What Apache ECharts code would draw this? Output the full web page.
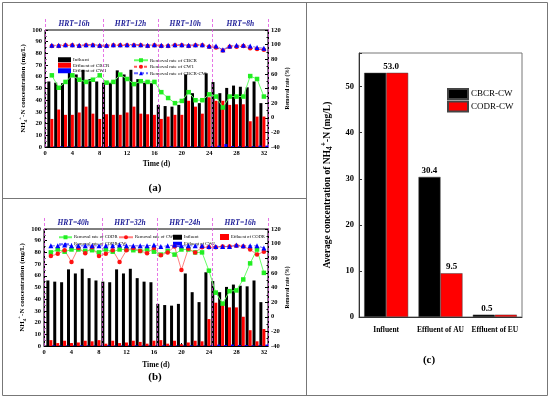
<!DOCTYPE html>
<html><head><meta charset="utf-8">
<script src="https://cdn.jsdelivr.net/npm/echarts@6/dist/echarts.min.js"></script>
<style>html,body{margin:0;padding:0;background:#fff}#c{width:550px;height:398px}</style>
</head><body><div id="c"></div>
<script>
// ---------- data ----------
const days = [1,2,3,4,5,6,7,8,9,10,11,12,13,14,15,16,17,18,19,20,21,22,23,24,25,26,27,28,29,30,31,32];
const influent = [56,55,54.5,65.5,62,66,58,56,55,54.5,65.5,62,66,58,55,54.5,36,35,34.5,36,62,46,37.5,63,55.5,46,50.5,52.5,51.5,51,56,37.5];
// panel (a)
const effCBCR = [24,32,27.5,27.5,29.5,34.5,28.5,24,28,27.5,27.5,29.5,34.5,28.5,28,27.5,24,26,27.5,27.5,39.5,34.5,28.5,42.5,39.5,39.5,36,36.5,36.5,22,26,26];
const effCW1 = [0.3,0.5,0.3,0.3,0.3,0.3,0.3,0.3,0.5,0.3,0.3,0.3,0.3,0.3,0.3,0.3,0.3,0.5,0.3,0.3,0.3,0.3,0.3,0.8,1.2,2.5,0.8,0.6,0.5,0.6,1.2,1.2];
const remCBCR = [58,41,49,58,52,49,52,58,48,49,59,53,46,50,49,49,35,27,20,23,35,24,24,32,29,14,29,29,29,57,53,29];
const remCW1 = [98,98,99,99,98,99,99,98,98,99,99,99,99,99,98,99,98,98,99,99,98,99,99,97,96,92,97,97,98,95,94,93];
const remCBCRCW = [99,99,100,100,99,100,100,99,99,100,100,100,100,100,99,100,99,99,100,100,99,100,100,98,98,93,98,99,99,98,96,95];
// panel (b)
const effCODR = [5,2.5,4.5,2.5,3,4.5,4,5,2,4.5,2.5,3,4.5,3.5,2,4.5,5,2,4.5,1.5,3,4.5,4,23,37,37,33,33,25,13.5,4,14.5];
const effCW2 = [0.5,0.3,0.3,0.3,0.5,0.3,0.3,0.3,0.5,0.3,0.3,0.3,0.5,0.3,0.3,0.3,0.5,0.3,0.3,0.3,0.5,0.3,0.3,0.5,1.2,0.8,1.2,0.8,0.8,0.5,0.5,1.2];
const remCODR = [88,92,89,92,92,90,91,88,92,89,92,92,91,90,92,89,85,90,85,92,92,88,88,63,33,18,35,36,51,73,92,60];
const remCW2 = [83,86,91,75,94,87,95,83,86,91,75,91,94,90,87,94,84,88,96,64,93,88,95,95,95,96,96,97,96,92,85,89];
const remCODRCW = [97,97,98,97,97,97,97,97,97,97,98,97,97,97,97,98,96,97,98,97,97,97,97,96,96,96,96,98,97,97,97,94];
// HRT phases
const hrtBounds = [0, 8.5, 16.5, 24.5, 32.6];
const hrtA = ['HRT=16h','HRT=12h','HRT=10h','HRT=8h'];
const hrtB = ['HRT=40h','HRT=32h','HRT=24h','HRT=16h'];
// panel (c)
const catsC = ['Influent','Effluent of AU','Effluent of EU'];
const avgCBCR = [53.0, 30.4, 0.5];
const avgCODR = [53.0, 9.5, 0.5];
const xTicks = [0,4,8,12,16,20,24,28,32];

// ---------- helpers ----------
const F = 'Liberation Serif';
const pairs = arr => days.map((d,i)=>[d, arr[i]]);
const nhRich = (fs) => ({
  t:{fontFamily:F,fontSize:fs,fontWeight:'bold',color:'#000',lineHeight:fs+4},
  sub:{fontFamily:F,fontSize:fs-2,fontWeight:'bold',color:'#000',verticalAlign:'bottom',lineHeight:fs+4,padding:[3,0,0,0]},
  sup:{fontFamily:F,fontSize:fs-2,fontWeight:'bold',color:'#000',verticalAlign:'top',lineHeight:fs+4,padding:[0,0,4,0]}
});
function xAB(g){
  return {type:'value',gridIndex:g,min:0,max:32.6,interval:4,
    axisLine:{show:true,onZero:false,lineStyle:{color:'#000',width:1}},
    axisTick:{show:true,inside:true,length:3,lineStyle:{color:'#000'}},
    minorTick:{show:true,splitNumber:2,length:1.5,lineStyle:{color:'#000'}},
    splitLine:{show:false},
    axisLabel:{fontFamily:F,fontSize:6.5,fontWeight:'bold',color:'#000',margin:3,
      formatter:v=> xTicks.indexOf(v)>=0 ? String(v) : ''},
    name:'Time (d)',nameLocation:'middle',nameGap:g===0?13:15,
    nameTextStyle:{fontFamily:F,fontSize:7.5,fontWeight:'bold',color:'#000'}};
}
function yLeft(g){
  return {type:'value',gridIndex:g,min:0,max:100,interval:10,position:'left',
    axisLine:{show:true,lineStyle:{color:'#000'}},
    axisTick:{show:true,inside:true,length:3,lineStyle:{color:'#000'}},
    minorTick:{show:true,splitNumber:2,length:1.5,lineStyle:{color:'#000'}},
    splitLine:{show:false},
    axisLabel:{fontFamily:F,fontSize:6.5,fontWeight:'bold',color:'#000',margin:3},
    name:'{t|NH}{sub|4}{sup|+}{t|-N concentration (mg/L)}',nameLocation:'middle',nameGap:16,nameRotate:90,
    nameTextStyle:{rich:nhRich(7)}};
}
function yRight(g){
  return {type:'value',gridIndex:g,min:-40,max:120,interval:20,position:'right',
    axisLine:{show:true,lineStyle:{color:'#000'}},
    axisTick:{show:true,inside:true,length:3,lineStyle:{color:'#000'}},
    minorTick:{show:true,splitNumber:2,length:1.5,lineStyle:{color:'#000'}},
    splitLine:{show:false},
    axisLabel:{fontFamily:F,fontSize:6.5,fontWeight:'bold',color:'#000',margin:3},
    name:'Removal rate (%)',nameLocation:'middle',nameGap:16,nameRotate:90,
    nameTextStyle:{fontFamily:F,fontSize:5.5,fontWeight:'bold',color:'#000'}};
}
function barS(name,arr,color,x,y){
  return {type:'bar',name,xAxisIndex:x,yAxisIndex:y,data:pairs(arr),barWidth:3,barGap:'0%',
    itemStyle:{color},emphasis:{disabled:true}};
}
function lineS(name,arr,x,y,lineColor,symColor,symbol,size,dash){
  return {type:'line',name,xAxisIndex:x,yAxisIndex:y,data:pairs(arr),symbol,symbolSize:size,
    lineStyle:{color:lineColor,width:1,type:dash||'solid'},itemStyle:{color:symColor},z:5};
}
function overlay(x,y,labels){
  return {type:'line',name:'_ov'+x,xAxisIndex:x,yAxisIndex:y,data:[],silent:true,
    markLine:{silent:true,symbol:['none','none'],label:{show:false},
      lineStyle:{type:[3,2],color:'#e050e0',width:0.8},
      data:hrtBounds.map(v=>({xAxis:v}))},
    markArea:{silent:true,itemStyle:{color:'rgba(0,0,0,0)'},
      label:{show:true,position:'insideTop',distance:2.5,color:'#23239a',fontFamily:F,fontStyle:'italic',fontWeight:'bold',fontSize:7.5},
      data:labels.map((t,i)=>[{xAxis:hrtBounds[i],name:t},{xAxis:hrtBounds[i+1]}])}};
}
const legA = {fontFamily:F,fontSize:5,color:'#000',lineHeight:5.5,padding:[0,0,0,-3]};
const legB = {fontFamily:F,fontSize:4.6,color:'#000',lineHeight:5.5,padding:[0,0,0,-3]};

const chart = echarts.init(document.getElementById('c'),null,{renderer:'canvas'});
chart.setOption({
  animation:false,
  backgroundColor:'#fff',
  grid:[
    {left:45,top:30,width:223,height:117,show:true,borderColor:'#000',borderWidth:1},
    {left:44,top:229,width:224,height:117,show:true,borderColor:'#000',borderWidth:1},
    {left:359,top:53,width:163,height:264,show:true,borderColor:'#777',borderWidth:1},
    {left:45,top:18,width:223,height:129},
    {left:44,top:217,width:224,height:129}
  ],
  xAxis:[
    xAB(0), xAB(1),
    {type:'category',gridIndex:2,data:catsC,
      axisLine:{lineStyle:{color:'#333'}},axisTick:{show:false},
      axisLabel:{interval:0,fontFamily:F,fontSize:7.5,fontWeight:'bold',color:'#000',margin:9}},
    {type:'value',gridIndex:3,min:0,max:32.6,show:false},
    {type:'value',gridIndex:4,min:0,max:32.6,show:false}
  ],
  yAxis:[
    yLeft(0), yRight(0), yLeft(1), yRight(1),
    {type:'value',gridIndex:2,min:0,max:57.3,interval:10,
      axisLine:{show:true,lineStyle:{color:'#333'}},
      axisTick:{show:true,inside:true,length:3,lineStyle:{color:'#333'}},
      splitLine:{show:false},
      axisLabel:{fontFamily:F,fontSize:8.5,fontWeight:'bold',color:'#000',margin:5,
        formatter:v=> v%10===0 ? String(v) : ''},
      name:'{t|Average concentration of NH}{sub|4}{sup|+}{t|-N (mg/L)}',nameLocation:'middle',nameGap:25,nameRotate:90,
      nameTextStyle:{rich:nhRich(9.5)}},
    {type:'value',gridIndex:3,min:0,max:1,show:false},
    {type:'value',gridIndex:4,min:0,max:1,show:false}
  ],
  legend:[
    {orient:'vertical',left:53,top:52,itemWidth:13,itemHeight:5,itemGap:0,icon:'rect',selectedMode:false,
      textStyle:legA,data:['Influent','Effluent of CBCR','Effluent of CW1']},
    {orient:'vertical',left:128,top:52.5,itemWidth:14,itemHeight:5,itemGap:1,selectedMode:false,
      textStyle:legA,data:['Removal rate of CBCR','Removal rate of CW1','Removal rate of CBCR-CW']},
    {orient:'vertical',left:53,top:229.5,itemWidth:13,itemHeight:5,itemGap:1.5,selectedMode:false,
      textStyle:legB,data:['Removal rate of CODR','Removal rate of CODR-CW']},
    {orient:'vertical',left:113,top:229.5,itemWidth:14,itemHeight:5,itemGap:1,selectedMode:false,
      textStyle:legB,data:['Removal rate of CW2']},
    {orient:'vertical',left:168,top:229.5,itemWidth:9,itemHeight:5,itemGap:1.5,icon:'rect',selectedMode:false,
      textStyle:legB,data:['Influent','Effluent of CW2']},
    {orient:'vertical',left:215,top:229,itemWidth:9,itemHeight:6,itemGap:1,icon:'rect',selectedMode:false,
      textStyle:legB,data:['Effluent of CODR']},
    {orient:'vertical',left:442,top:83,itemWidth:20,itemHeight:10,itemGap:0.5,icon:'rect',selectedMode:false,
      textStyle:{fontFamily:F,fontSize:9,color:'#000',lineHeight:10.5,padding:[0,0,0,-2]},data:['CBCR-CW','CODR-CW']}
  ],
  series:[
    // (a)
    barS('Influent',influent,'#000',0,0),
    barS('Effluent of CBCR',effCBCR,'#ff0000',0,0),
    barS('Effluent of CW1',effCW1,'#0000ff',0,0),
    lineS('Removal rate of CBCR',remCBCR,0,1,'#66ff66','#22ee22','rect',4.5),
    lineS('Removal rate of CW1',remCW1,0,1,'#ff5555','#ff1111','circle',4.5,[3,2]),
    lineS('Removal rate of CBCR-CW',remCBCRCW,0,1,'#6666ff','#0000ff','triangle',5,[4,2]),
    // (b)
    barS('Influent',influent,'#000',1,2),
    barS('Effluent of CODR',effCODR,'#ff0000',1,2),
    barS('Effluent of CW2',effCW2,'#0000ff',1,2),
    lineS('Removal rate of CODR',remCODR,1,3,'#66ff66','#22ee22','rect',4.5),
    lineS('Removal rate of CW2',remCW2,1,3,'#ff8080','#ff1111','circle',4.5),
    lineS('Removal rate of CODR-CW',remCODRCW,1,3,'#6666ff','#0000ff','triangle',5,[4,2]),
    // overlays (HRT dividers/labels)
    overlay(3,5,hrtA),
    overlay(4,6,hrtB),
    // (c)
    {type:'bar',name:'CBCR-CW',xAxisIndex:2,yAxisIndex:4,barGap:'0%',barCategoryGap:'19%',
      itemStyle:{color:'#000',borderColor:'#444',borderWidth:0.5},
      data:avgCBCR.map((v,i)=>({value:v,label:{show:i>0,offset:i===2?[3,0]:[0,0]}})),
      label:{position:'top',distance:2,fontFamily:F,fontSize:9,fontWeight:'bold',color:'#000',formatter:p=>p.value.toFixed(1)}},
    {type:'bar',name:'CODR-CW',xAxisIndex:2,yAxisIndex:4,barGap:'0%',barCategoryGap:'19%',
      itemStyle:{color:'#ff0000',borderColor:'#444',borderWidth:0.5},
      data:avgCODR.map((v,i)=>({value:v,label:{show:i<2,offset:i===0?[-6,0]:[0,0]}})),
      label:{position:'top',distance:2,fontFamily:F,fontSize:9,fontWeight:'bold',color:'#000',formatter:p=>p.value.toFixed(1)}}
  ],
  graphic:[
    {type:'rect',shape:{x:2.5,y:2.5,width:545,height:393},style:{fill:'none',stroke:'#777',lineWidth:1},silent:true},
    {type:'line',shape:{x1:306.5,y1:2.5,x2:306.5,y2:395.5},style:{stroke:'#777',lineWidth:1},silent:true},
    {type:'line',shape:{x1:2.5,y1:198.5,x2:306.5,y2:198.5},style:{stroke:'#777',lineWidth:1},silent:true},
    {type:'text',x:155,y:188,style:{text:'(a)',font:'bold 11px "Liberation Serif"',fill:'#000',textAlign:'center',textVerticalAlign:'middle'}},
    {type:'text',x:155,y:377,style:{text:'(b)',font:'bold 11px "Liberation Serif"',fill:'#000',textAlign:'center',textVerticalAlign:'middle'}},
    {type:'text',x:429,y:360,style:{text:'(c)',font:'bold 11px "Liberation Serif"',fill:'#000',textAlign:'center',textVerticalAlign:'middle'}}
  ]
});
</script></body></html>
